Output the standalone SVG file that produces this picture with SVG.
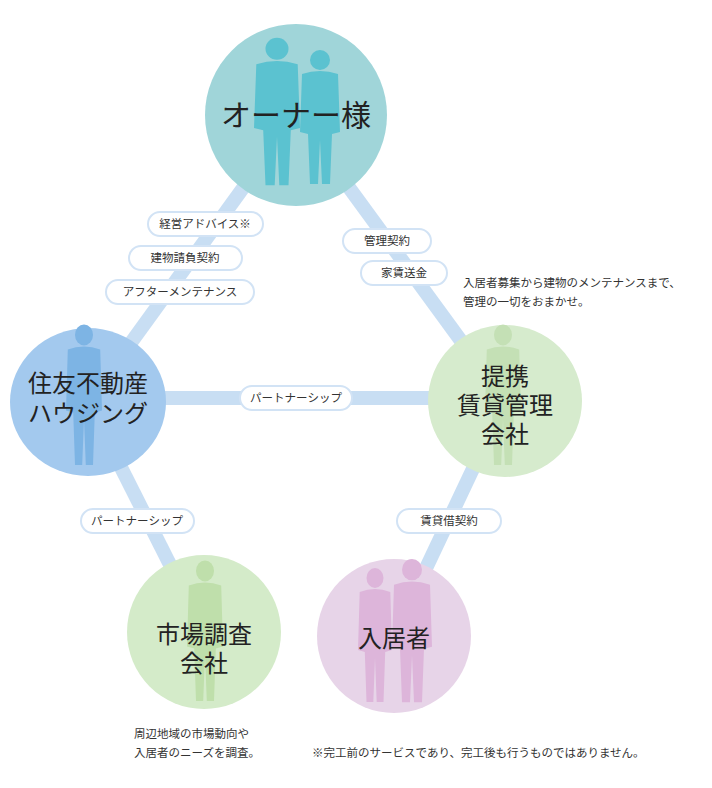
<svg xmlns="http://www.w3.org/2000/svg" width="712" height="788" viewBox="0 0 712 788">
<style>
.lbl{fill:#fff;stroke:#d2e3f5;stroke-width:2}
.lt{font-family:"Noto Sans CJK JP","Liberation Sans",sans-serif;font-size:11.5px;fill:#333;text-anchor:middle}
.nt{font-family:"Liberation Serif","Noto Sans CJK JP",serif;fill:#222;text-anchor:middle}
.note{font-family:"Noto Sans CJK JP","Liberation Sans",sans-serif;font-size:11.5px;fill:#333}
.con{stroke:#c8def3;stroke-width:14;fill:none}
</style>
<defs>
<g id="man"><circle cx="0" cy="-62" r="10"/><path d="M-18,-48 Q0,-54 18,-48 L20,10 L12,12 L10,62 L2,62 L0,18 L-2,62 L-10,62 L-12,12 L-20,10 Z"/></g>
</defs>
<g id="connectors">
<line class="con" x1="296" y1="115" x2="88" y2="402"/>
<line class="con" x1="296" y1="115" x2="505" y2="401"/>
<line class="con" x1="88" y1="398" x2="505" y2="398"/>
<line class="con" x1="88" y1="402" x2="204" y2="632"/>
<line class="con" x1="505" y1="401" x2="394" y2="636"/>
<rect class="lbl" x="148" y="212" width="115" height="24" rx="12"/><text class="lt" x="205" y="228">経営アドバイス※</text>
<rect class="lbl" x="129" y="246" width="113" height="24" rx="12"/><text class="lt" x="185" y="262">建物請負契約</text>
<rect class="lbl" x="106" y="280" width="148" height="24" rx="12"/><text class="lt" x="180" y="296">アフターメンテナンス</text>
<rect class="lbl" x="343" y="229" width="88" height="24" rx="12"/><text class="lt" x="387" y="245">管理契約</text>
<rect class="lbl" x="361" y="261" width="86" height="24" rx="12"/><text class="lt" x="404" y="277">家賃送金</text>
<rect class="lbl" x="240" y="386" width="112" height="24" rx="12"/><text class="lt" x="296" y="402">パートナーシップ</text>
<rect class="lbl" x="81" y="509" width="113" height="24" rx="12"/><text class="lt" x="137" y="525">パートナーシップ</text>
<rect class="lbl" x="397" y="509" width="104" height="24" rx="12"/><text class="lt" x="449" y="525">賃貸借契約</text>
</g>
<g id="owner">
<circle cx="296" cy="115" r="91" fill="#a0d5d9"/>
<g fill="#5bc2d0"><use href="#man" transform="translate(277,117) scale(1.15,1.1)"/><use href="#man" transform="translate(320,122) scale(1.0,1.0)"/></g>
<text class="nt" x="296" y="126" font-size="30">オーナー様</text>
</g>
<g id="sumitomo">
<ellipse cx="88" cy="402" rx="78" ry="74" fill="#a3c9ee"/>
<use href="#man" fill="#7db4e4" transform="translate(84,400) scale(0.9,1.05)"/>
<text class="nt" x="88" y="392" font-size="24">住友不動産</text>
<text class="nt" x="88" y="422" font-size="24">ハウジング</text>
</g>
<g id="kanri">
<ellipse cx="505" cy="401" rx="77" ry="76" fill="#d6ebcd"/>
<use href="#man" fill="#c4e0b5" transform="translate(503,400) scale(0.9,1.05)"/>
<text class="nt" x="505" y="385" font-size="24">提携</text>
<text class="nt" x="505" y="414" font-size="24">賃貸管理</text>
<text class="nt" x="505" y="443" font-size="24">会社</text>
</g>
<g id="market">
<circle cx="204" cy="632" r="77" fill="#d4ebc9"/>
<use href="#man" fill="#bfdfab" transform="translate(205,636) scale(0.9,1.05)"/>
<text class="nt" x="204" y="643" font-size="24">市場調査</text>
<text class="nt" x="204" y="672" font-size="24">会社</text>
</g>
<g id="tenant">
<circle cx="394" cy="636" r="77" fill="#e7d4e8"/>
<g fill="#ddb5da"><use href="#man" transform="translate(375,640) scale(0.85,1.0)"/><use href="#man" transform="translate(412,636) scale(1.0,1.07)"/></g>
<text class="nt" x="394" y="647" font-size="24">入居者</text>
</g>
<g id="notes">
<text class="note" x="463" y="287">入居者募集から建物のメンテナンスまで、</text>
<text class="note" x="463" y="306">管理の一切をおまかせ。</text>
<text class="note" x="134" y="738">周辺地域の市場動向や</text>
<text class="note" x="134" y="757">入居者のニーズを調査。</text>
<text class="note" x="312" y="757">※完工前のサービスであり、完工後も行うものではありません。</text>
</g>
</svg>
